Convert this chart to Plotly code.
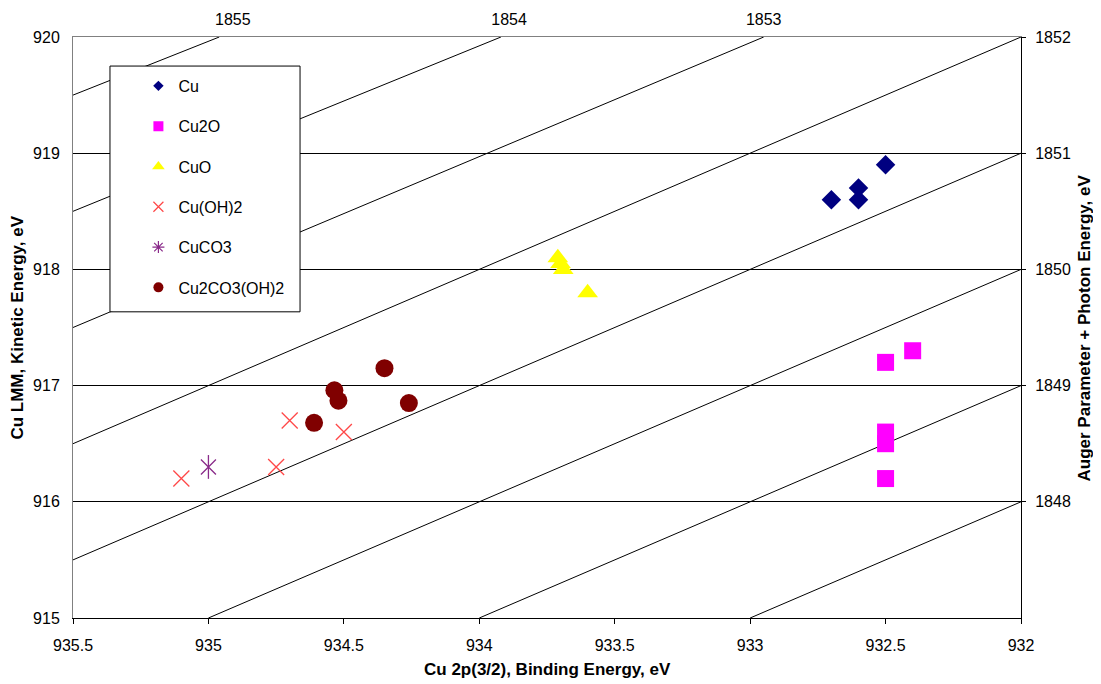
import plotly.graph_objects as go

# ---------------- data ----------------
cu_be = [932.70, 932.60, 932.60, 932.50]
cu_ke = [918.60, 918.70, 918.60, 918.90]

cu2o_be = [932.50, 932.40, 932.50, 932.50, 932.50]
cu2o_ke = [917.20, 917.30, 916.60, 916.50, 916.20]

cuo_be = [933.71, 933.69, 933.70, 933.60]
cuo_ke = [918.10, 918.00, 918.05, 917.80]

cuoh2_be = [935.10, 934.75, 934.70, 934.50]
cuoh2_ke = [916.20, 916.30, 916.70, 916.60]

cuco3_be = [935.00]
cuco3_ke = [916.30]

mal_be = [934.61, 934.535, 934.52, 934.35, 934.26]
mal_ke = [916.68, 916.96, 916.87, 917.15, 916.85]

# Auger parameter guide lines (start / end points in BE, KE)
line_be_start = [935.5, 935.5, 935.5, 935.5, 935.5, 935.0, 934.0, 933.0]
line_ke_start = [919.5, 918.5, 917.5, 916.5, 915.5, 915.0, 915.0, 915.0]
line_be_end = [934.96, 933.92, 932.95, 932.0, 932.0, 932.0, 932.0, 932.0]
line_ke_end = [920.0, 920.0, 920.0, 920.0, 919.0, 918.0, 917.0, 916.0]

# top axis (Auger parameter labels)
top_tick_be = [934.91, 933.89, 932.95]
top_tick_text = ["1855", "1854", "1853"]

# right axis (Auger parameter + photon energy)
right_tick_ke = [920, 919, 918, 917, 916]
right_tick_text = ["1852", "1851", "1850", "1849", "1848"]

x_ticks = [935.5, 935, 934.5, 934, 933.5, 933, 932.5, 932]
x_tick_text = ["935.5", "935", "934.5", "934", "933.5", "933", "932.5", "932"]
y_ticks = [915, 916, 917, 918, 919, 920]

names = ["Cu", "Cu2O", "CuO", "Cu(OH)2", "CuCO3", "Cu2CO3(OH)2"]

FONT = "Liberation Sans, Arial, sans-serif"
RED_X = "#FF4848"
PURPLE = "#8A2B8A"

fig = go.Figure()

# guide lines
for xs, ys, xe, ye in zip(line_be_start, line_ke_start, line_be_end, line_ke_end):
    fig.add_trace(go.Scatter(x=[xs, xe], y=[ys, ye], mode="lines",
                             line=dict(color="black", width=1),
                             showlegend=False, hoverinfo="skip"))

# data series
fig.add_trace(go.Scatter(x=cu_be, y=cu_ke, mode="markers", showlegend=False,
                         marker=dict(symbol="diamond", size=15, color="#000080")))
fig.add_trace(go.Scatter(x=cu2o_be, y=cu2o_ke, mode="markers", showlegend=False,
                         marker=dict(symbol="square", size=17, color="#FF00FF")))
fig.add_trace(go.Scatter(x=cuo_be, y=cuo_ke, mode="markers", showlegend=False,
                         marker=dict(symbol="triangle-up", size=18, color="#FFFF00")))
fig.add_trace(go.Scatter(x=cuoh2_be, y=cuoh2_ke, mode="markers", showlegend=False,
                         marker=dict(symbol="x-thin-open", size=16, color=RED_X,
                                     line=dict(width=1.3))))
fig.add_trace(go.Scatter(x=cuco3_be, y=cuco3_ke, mode="markers", showlegend=False,
                         marker=dict(symbol="x-thin-open", size=15, color=PURPLE,
                                     line=dict(width=1.3))))
fig.add_trace(go.Scatter(x=cuco3_be, y=cuco3_ke, mode="markers", showlegend=False,
                         marker=dict(symbol="line-ns-open", size=17, color=PURPLE,
                                     line=dict(width=1.3))))
fig.add_trace(go.Scatter(x=mal_be, y=mal_ke, mode="markers", showlegend=False,
                         marker=dict(symbol="circle", size=18, color="#800000")))

# legend-only traces (smaller symbols, like the original legend)
leg_markers = [
    dict(symbol="diamond", size=8, color="#000080"),
    dict(symbol="square", size=10, color="#FF00FF"),
    dict(symbol="triangle-up", size=11, color="#FFFF00"),
    dict(symbol="x-thin-open", size=10, color=RED_X, line=dict(width=1.2)),
    dict(symbol="asterisk-open", size=10, color=PURPLE, line=dict(width=1.2)),
    dict(symbol="circle", size=10, color="#800000"),
]
for i, (nm, mk) in enumerate(zip(names, leg_markers)):
    fig.add_trace(go.Scatter(x=[None], y=[None], mode="markers", name=nm,
                             marker=mk, legendgroup=f"g{i}", showlegend=True))

# invisible trace to activate secondary axes
fig.add_trace(go.Scatter(x=[None], y=[None], xaxis="x2", yaxis="y2",
                         showlegend=False, hoverinfo="skip"))

tickfont = dict(family=FONT, size=16, color="black")
title_font = dict(family=FONT, size=17, color="black")

# the page body adds an 8px margin, so the figure is offset by 8px
fig.update_layout(
    width=1093, height=676,
    margin=dict(l=65, r=80, t=29, b=66),
    paper_bgcolor="white", plot_bgcolor="white",
    font=dict(family=FONT, color="black"),
    xaxis=dict(range=[935.5, 932], tickvals=x_ticks, ticktext=x_tick_text,
               showgrid=False, zeroline=False, showline=True, automargin=False,
               linecolor="black", linewidth=1, ticks="outside", ticklen=5,
               tickcolor="black", tickfont=tickfont, ticklabelstandoff=8),
    yaxis=dict(range=[915, 920], tickvals=y_ticks, showgrid=True,
               gridcolor="black", gridwidth=1, zeroline=False, showline=True,
               automargin=False, linecolor="#808080", linewidth=1, ticks="",
               tickfont=tickfont, ticklabelstandoff=9),
    xaxis2=dict(overlaying="x", side="top", range=[935.5, 932],
                tickvals=top_tick_be, ticktext=top_tick_text, showgrid=False,
                zeroline=False, showline=True, linecolor="#808080",
                automargin=False, ticks="", tickfont=tickfont,
                ticklabelstandoff=5),
    yaxis2=dict(overlaying="y", side="right", range=[915, 920],
                tickvals=right_tick_ke, ticktext=right_tick_text,
                showgrid=False, zeroline=False, showline=True,
                automargin=False, linecolor="black", ticks="outside",
                ticklen=4, tickcolor="black", tickfont=tickfont,
                ticklabelstandoff=6),
    showlegend=True,
    legend=dict(x=0.069, y=0.945, xanchor="left", yanchor="top",
                bgcolor="rgba(0,0,0,0)", borderwidth=0,
                font=dict(family=FONT, size=16, color="black"),
                tracegroupgap=16.5, traceorder="grouped", itemwidth=30),
    shapes=[dict(type="rect", xref="paper", yref="paper",
                 x0=0.039, x1=0.2395, y0=0.527, y1=0.950,
                 line=dict(color="black", width=1), fillcolor="white",
                 layer="above")],
    annotations=[
        dict(text="<b>Cu 2p(3/2), Binding Energy, eV</b>", xref="paper",
             yref="paper", x=0.5, y=-0.0895, xanchor="center",
             yanchor="middle", showarrow=False, font=title_font),
        dict(text="<b>Cu LMM, Kinetic Energy, eV</b>", xref="paper",
             yref="paper", x=-0.059, y=0.5, xanchor="center",
             yanchor="middle", showarrow=False, textangle=-90,
             font=title_font),
        dict(text="<b>Auger Parameter + Photon Energy, eV</b>", xref="paper",
             yref="paper", x=1.0675, y=0.5, xanchor="center",
             yanchor="middle", showarrow=False, textangle=-90,
             font=title_font),
    ],
)

fig.write_html("out.html")
